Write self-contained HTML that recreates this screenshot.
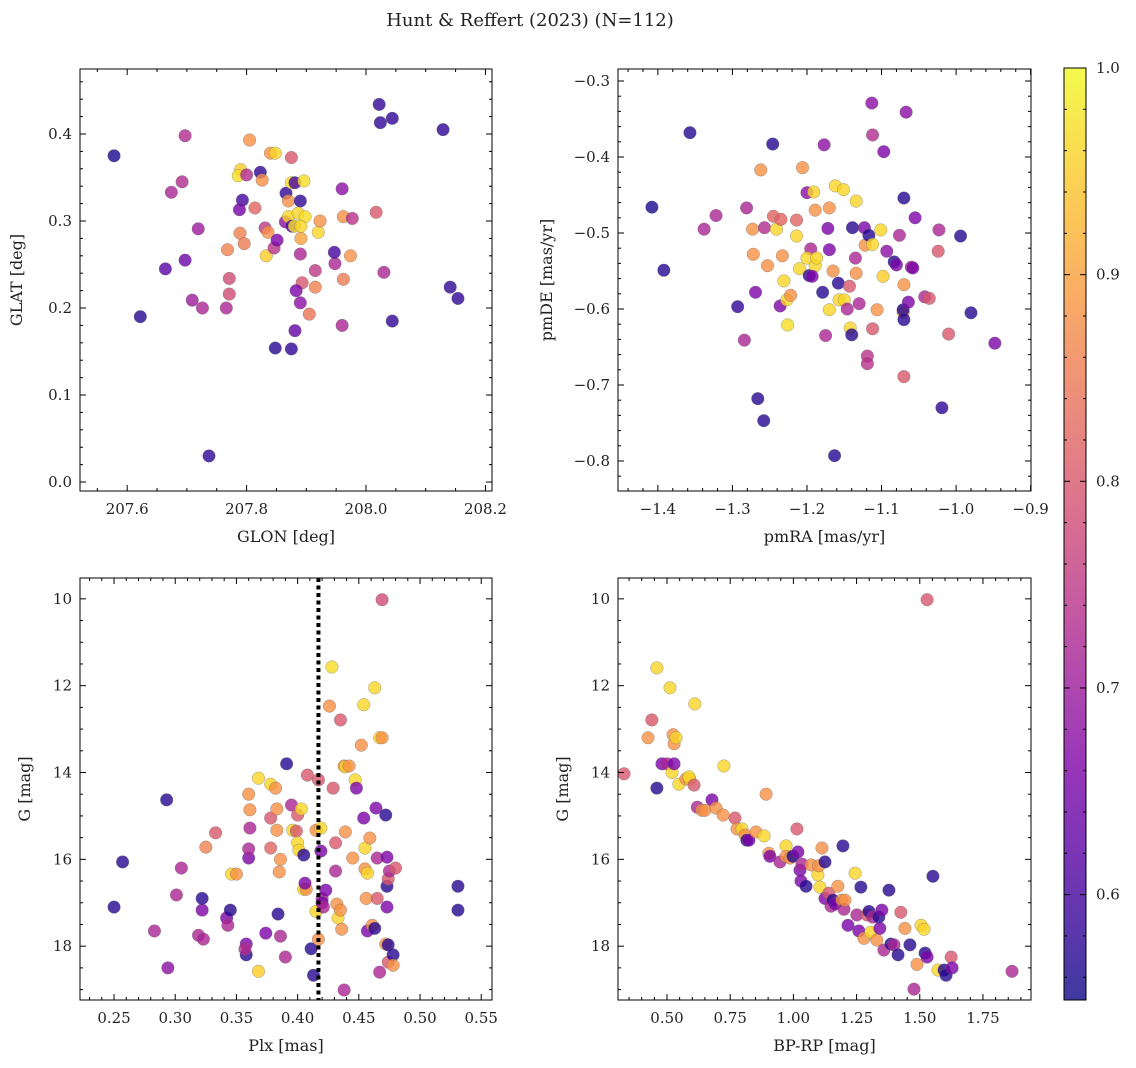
<!DOCTYPE html>
<html><head><meta charset="utf-8">
<style>
html,body{margin:0;padding:0;background:#fff;}
svg{display:block;font-family:"DejaVu Serif","Liberation Serif",serif;}
</style></head>
<body>
<svg id="fig" width="1136" height="1068" viewBox="0 0 1136 1068" xmlns="http://www.w3.org/2000/svg">
<text x="530" y="26" font-size="18" text-anchor="middle" fill="#222">Hunt &amp; Reffert (2023) (N=112)</text>
</svg>
<script>
// ---- Panel 1: GLON vs GLAT ----
const p1x=[207.578,207.622,207.664,207.697,207.674,207.692,207.697,207.709,207.719,207.726,207.737,207.766,207.771,207.771,207.768,207.789,207.796,207.805,207.79,207.786,207.793,207.788,207.80,207.814,207.823,207.826,207.831,207.836,207.833,207.846,207.84,207.848,207.848,207.851,207.865,207.866,207.87,207.87,207.876,207.88,207.875,207.875,207.881,207.89,207.896,207.886,207.898,207.891,207.891,207.89,207.893,207.89,207.883,207.881,207.875,207.905,207.915,207.915,207.92,207.923,207.948,207.947,207.96,207.962,207.962,207.96,207.977,207.974,208.017,208.024,208.022,208.03,208.044,208.044,208.129,208.141,208.154];
const p1y=[.375,.19,.245,.255,.333,.345,.398,.209,.291,.2,.03,.2,.234,.216,.267,.286,.274,.393,.359,.352,.324,.313,.353,.315,.356,.347,.292,.287,.26,.269,.378,.378,.154,.278,.299,.332,.323,.305,.294,.294,.373,.344,.344,.323,.346,.309,.305,.294,.28,.262,.229,.206,.22,.174,.153,.193,.243,.224,.287,.3,.251,.264,.337,.305,.233,.18,.303,.26,.31,.413,.434,.241,.418,.185,.405,.224,.211];
const p1c=[.56,.57,.62,.64,.72,.73,.73,.7,.7,.72,.58,.72,.78,.78,.86,.86,.85,.88,.95,.97,.6,.65,.73,.82,.58,.88,.75,.88,.95,.74,.88,.96,.57,.66,.68,.58,.88,.96,.6,.97,.8,.97,.6,.58,.97,.96,.97,.96,.9,.72,.8,.68,.66,.63,.58,.84,.75,.86,.96,.88,.72,.6,.68,.88,.85,.72,.74,.88,.8,.58,.58,.72,.58,.58,.58,.58,.58];
// ---- Panel 2: pmRA vs pmDE ----
const p2x=[-1.408,-1.392,-1.357,-1.338,-1.322,-1.293,-1.284,-1.281,-1.273,-1.272,-1.269,-1.266,-1.262,-1.258,-1.257,-1.253,-1.246,-1.245,-1.241,-1.236,-1.235,-1.233,-1.231,-1.227,-1.226,-1.222,-1.214,-1.214,-1.21,-1.206,-1.2,-1.197,-1.195,-1.191,-1.189,-1.2,-1.189,-1.187,-1.193,-1.179,-1.177,-1.175,-1.172,-1.17,-1.17,-1.17,-1.165,-1.163,-1.162,-1.158,-1.157,-1.151,-1.15,-1.146,-1.143,-1.142,-1.14,-1.139,-1.135,-1.134,-1.134,-1.13,-1.123,-1.122,-1.119,-1.119,-1.117,-1.113,-1.112,-1.112,-1.112,-1.106,-1.101,-1.098,-1.097,-1.093,-1.083,-1.08,-1.076,-1.071,-1.07,-1.07,-1.07,-1.067,-1.071,-1.07,-1.064,-1.06,-1.058,-1.055,-1.042,-1.036,-1.023,-1.024,-1.019,-1.01,-0.994,-0.98,-0.948];
const p2y=[-0.466,-0.549,-0.368,-0.495,-0.477,-0.597,-0.641,-0.467,-0.495,-0.528,-0.578,-0.718,-0.417,-0.747,-0.493,-0.543,-0.383,-0.478,-0.495,-0.596,-0.482,-0.53,-0.563,-0.588,-0.621,-0.582,-0.504,-0.483,-0.547,-0.414,-0.447,-0.556,-0.521,-0.446,-0.47,-0.533,-0.543,-0.533,-0.557,-0.578,-0.384,-0.635,-0.494,-0.467,-0.522,-0.601,-0.55,-0.793,-0.438,-0.566,-0.588,-0.443,-0.588,-0.6,-0.57,-0.625,-0.634,-0.493,-0.533,-0.458,-0.553,-0.593,-0.493,-0.516,-0.662,-0.672,-0.503,-0.329,-0.371,-0.515,-0.626,-0.601,-0.496,-0.557,-0.393,-0.524,-0.538,-0.542,-0.503,-0.604,-0.454,-0.568,-0.689,-0.341,-0.601,-0.614,-0.591,-0.545,-0.546,-0.48,-0.584,-0.586,-0.496,-0.524,-0.73,-0.633,-0.504,-0.605,-0.645];
const p2c=[.56,.57,.57,.72,.72,.58,.72,.72,.88,.88,.66,.57,.88,.57,.73,.88,.57,.82,.96,.66,.82,.88,.96,.96,.97,.88,.96,.82,.96,.88,.68,.57,.72,.96,.88,.96,.96,.96,.66,.57,.68,.72,.66,.88,.66,.96,.88,.57,.96,.57,.96,.96,.96,.72,.8,.96,.57,.57,.72,.96,.88,.72,.66,.88,.74,.74,.57,.68,.73,.96,.8,.88,.96,.95,.66,.68,.57,.66,.72,.88,.57,.88,.8,.68,.57,.57,.66,.72,.66,.66,.72,.8,.72,.8,.58,.8,.57,.57,.66];
// ---- Panel 3: Plx vs G ----
const p3x=[0.25,0.257,0.283,0.293,0.294,0.301,0.305,0.319,0.322,0.322,0.323,0.325,0.333,0.342,0.343,0.345,0.346,0.35,0.358,0.358,0.357,0.36,0.36,0.361,0.361,0.36,0.368,0.368,0.374,0.378,0.378,0.378,0.382,0.383,0.383,0.386,0.385,0.384,0.386,0.39,0.391,0.395,0.396,0.399,0.4,0.4,0.401,0.403,0.405,0.405,0.407,0.406,0.408,0.411,0.413,0.415,0.415,0.417,0.417,0.419,0.419,0.42,0.42,0.421,0.423,0.428,0.426,0.429,0.431,0.431,0.432,0.433,0.435,0.435,0.436,0.438,0.439,0.439,0.438,0.442,0.445,0.447,0.448,0.452,0.454,0.454,0.455,0.455,0.456,0.457,0.457,0.459,0.461,0.463,0.464,0.463,0.465,0.467,0.467,0.469,0.469,0.465,0.472,0.472,0.473,0.473,0.473,0.474,0.474,0.474,0.475,0.478,0.478,0.48,0.531,0.531];
const p3y=[17.1,16.06,17.65,14.63,18.5,16.82,16.2,17.75,17.17,16.9,17.84,15.72,15.39,17.35,17.52,17.17,16.34,16.34,18.2,17.95,18.07,15.97,15.76,15.28,14.86,14.5,14.13,18.58,17.7,14.27,15.05,15.74,14.36,15.33,14.84,16.0,16.29,17.26,17.77,18.25,13.8,14.75,15.33,15.35,14.98,15.62,15.79,14.84,15.9,16.69,16.69,16.55,14.06,18.06,18.67,15.33,17.2,17.84,14.17,15.28,15.81,16.9,17.0,17.1,16.71,11.57,12.47,14.36,15.62,16.27,17.03,17.35,12.79,17.17,17.61,13.85,13.87,15.37,19.01,13.85,15.97,14.17,14.36,13.37,12.44,15.05,15.74,16.22,16.9,17.65,16.32,15.51,17.52,12.05,14.82,17.59,15.97,18.6,13.2,13.2,10.02,16.9,14.98,17.95,15.95,16.62,17.1,18.37,17.97,16.45,16.27,18.2,18.44,16.2,16.62,17.17];
const p3c=[.57,.57,.72,.57,.68,.72,.72,.72,.66,.57,.72,.86,.8,.66,.72,.57,.96,.88,.57,.66,.73,.66,.72,.72,.88,.88,.96,.95,.66,.96,.8,.82,.88,.88,.88,.88,.88,.57,.72,.72,.57,.72,.96,.8,.8,.96,.96,.96,.57,.96,.88,.66,.8,.57,.57,.88,.96,.88,.8,.96,.66,.72,.66,.72,.66,.97,.88,.8,.8,.72,.88,.96,.8,.88,.88,.88,.96,.88,.72,.88,.88,.96,.66,.88,.96,.66,.96,.88,.88,.66,.96,.88,.88,.96,.66,.57,.72,.72,.96,.88,.78,.8,.57,.88,.66,.57,.66,.8,.57,.8,.72,.57,.88,.8,.57,.57];
// ---- Panel 4: BP-RP vs G ----
const p4x=[0.33,0.44,0.425,0.46,0.46,0.48,0.5,0.512,0.52,0.524,0.528,0.536,0.528,0.547,0.575,0.59,0.587,0.61,0.607,0.62,0.638,0.65,0.678,0.694,0.722,0.725,0.769,0.777,0.797,0.809,0.816,0.824,0.852,0.884,0.892,0.903,0.907,0.947,0.971,0.971,0.987,0.998,1.014,1.018,1.026,1.03,1.034,1.05,1.07,1.097,1.1,1.105,1.113,1.125,1.125,1.14,1.149,1.157,1.165,1.176,1.192,1.196,1.2,1.204,1.216,1.244,1.251,1.259,1.267,1.279,1.291,1.299,1.306,1.314,1.33,1.338,1.342,1.35,1.358,1.378,1.386,1.398,1.414,1.425,1.441,1.461,1.477,1.489,1.505,1.517,1.521,1.529,1.529,1.552,1.572,1.596,1.604,1.624,1.628,1.865];
const p4y=[14.03,12.79,13.2,11.59,14.36,13.8,13.8,12.05,14.0,13.13,13.34,13.2,13.8,14.27,14.15,14.15,14.1,12.42,14.29,14.8,14.87,14.87,14.63,14.82,14.98,13.85,15.05,15.3,15.3,15.44,15.56,15.56,15.37,15.46,14.5,15.86,15.93,16.06,15.69,15.93,15.97,15.93,15.3,15.83,16.25,16.5,16.11,16.62,16.13,16.36,16.15,16.64,15.74,16.9,16.06,16.78,17.08,16.94,17.03,16.62,16.94,15.69,17.15,16.94,17.52,16.32,17.28,17.65,16.64,17.82,17.28,17.2,17.68,17.33,17.86,17.33,17.59,17.17,18.09,16.71,17.95,17.97,18.2,17.22,17.59,17.97,18.99,18.42,17.52,17.61,18.16,10.02,18.25,16.39,18.55,18.55,18.67,18.25,18.5,18.58];
const p4c=[.8,.8,.88,.96,.57,.66,.72,.96,.96,.88,.88,.96,.66,.96,.88,.96,.96,.96,.8,.72,.88,.88,.66,.88,.88,.96,.8,.88,.96,.88,.57,.66,.88,.96,.88,.88,.66,.72,.96,.88,.88,.57,.8,.66,.66,.66,.72,.57,.88,.96,.88,.96,.88,.66,.57,.8,.72,.57,.66,.88,.88,.57,.72,.88,.66,.96,.72,.66,.57,.88,.8,.57,.96,.72,.88,.57,.66,.66,.72,.57,.57,.72,.57,.8,.88,.57,.72,.88,.96,.96,.57,.8,.66,.57,.96,.57,.57,.8,.66,.72];
const plxCut=[0.417];
const cbTicks=[0.6,0.7,0.8,0.9,1.0];
const VMIN=0.549, VMAX=1.0;

const NS="http://www.w3.org/2000/svg";
const svg=document.getElementById('fig');
function mk(tag,attrs,parent){const e=document.createElementNS(NS,tag);for(const k in attrs)e.setAttribute(k,attrs[k]);(parent||svg).appendChild(e);return e;}
const stops=[[13,8,135],[76,2,161],[126,3,168],[169,35,149],[204,71,120],[229,107,93],[248,149,64],[253,197,39],[240,249,33]];
function plasma(v){let t=(v-VMIN)/(VMAX-VMIN);t=Math.max(0,Math.min(1,t));const f=t*8,i=Math.min(7,Math.floor(f)),r=f-i;const a=stops[i],b=stops[i+1];return `rgb(${Math.round(a[0]+(b[0]-a[0])*r)},${Math.round(a[1]+(b[1]-a[1])*r)},${Math.round(a[2]+(b[2]-a[2])*r)})`;}
function fmt(v,d){return (v<0?'\u2212':'')+Math.abs(v).toFixed(d);}

function panel(o){
  const g=mk('g',{});
  
  
  const sx=v=>o.L+(v-o.xd[0])/(o.xd[1]-o.xd[0])*(o.R-o.L);
  const sy=v=>o.B-(v-o.yd[0])/(o.yd[1]-o.yd[0])*(o.B-o.T);
  const clip='c'+o.name;
  const cp=mk('clipPath',{id:clip},g);mk('rect',{x:o.L,y:o.T,width:o.R-o.L,height:o.B-o.T},cp);
  const pg=mk('g',{'clip-path':`url(#${clip})`},g);
  for(let i=0;i<o.x.length;i++){
    const c=mk('circle',{cx:sx(o.x[i]),cy:sy(o.y[i]),r:6.3,fill:plasma(o.c[i]),'fill-opacity':0.8,stroke:'#666','stroke-width':0.5,'stroke-opacity':0.6},pg);
    
    
  }
  if(o.vline){const l=mk('line',{x1:sx(o.vline),x2:sx(o.vline),y1:o.T,y2:o.B,stroke:'#000','stroke-width':4,'stroke-dasharray':'4 3.5'},pg);
    
    }
  const fr=mk('rect',{x:o.L,y:o.T,width:o.R-o.L,height:o.B-o.T,fill:'none',stroke:'#000','stroke-width':1},g);
  
  
  const lo=Math.min(...o.xd),hi=Math.max(...o.xd);
  for(let k=Math.ceil(lo/o.xmin-1e-6);k*o.xmin<=hi+1e-9;k++){const v=k*o.xmin;const X=sx(v);
    const maj=Math.abs(v/o.xmaj-Math.round(v/o.xmaj))<1e-6;const len=maj?6:3;
    mk('line',{x1:X,x2:X,y1:o.B,y2:o.B-len,stroke:'#000','stroke-width':1},g);
    mk('line',{x1:X,x2:X,y1:o.T,y2:o.T+len,stroke:'#000','stroke-width':1},g);
    if(maj){const t=mk('text',{x:X,y:o.B+23,'font-size':15,'text-anchor':'middle',fill:'#222'},g);t.textContent=fmt(v,o.xdec);
      
      }}
  const ylo=Math.min(...o.yd),yhi=Math.max(...o.yd);
  for(let k=Math.ceil(ylo/o.ymin-1e-6);k*o.ymin<=yhi+1e-9;k++){const v=k*o.ymin;const Y=sy(v);
    const maj=Math.abs(v/o.ymaj-Math.round(v/o.ymaj))<1e-6;const len=maj?6:3;
    mk('line',{x1:o.L,x2:o.L+len,y1:Y,y2:Y,stroke:'#000','stroke-width':1},g);
    mk('line',{x1:o.R,x2:o.R-len,y1:Y,y2:Y,stroke:'#000','stroke-width':1},g);
    if(maj){const t=mk('text',{x:o.L-8,y:Y+5,'font-size':15,'text-anchor':'end',fill:'#222'},g);t.textContent=fmt(v,o.ydec);
      
      }}
  const xl=mk('text',{x:(o.L+o.R)/2,y:o.B+51,'font-size':16,'text-anchor':'middle',fill:'#222'},g);xl.textContent=o.xlab;
  
  
  const yx=o.L-o.ylOff,yy=(o.T+o.B)/2;
  const yl=mk('text',{x:yx,y:yy,'font-size':16,'text-anchor':'middle',fill:'#222',transform:`rotate(-90 ${yx} ${yy})`},g);yl.textContent=o.ylab;
  
  
}
panel({name:'glon-glat-panel',L:80,R:492,T:69,B:491,xd:[207.521,208.211],yd:[-0.0103,0.4747],xmaj:0.2,xmin:0.05,ymaj:0.1,ymin:0.02,xdec:1,ydec:1,x:p1x,y:p1y,c:p1c,xlab:'GLON [deg]',ylab:'GLAT [deg]',ylOff:58});
panel({name:'proper-motion-panel',L:618,R:1031,T:69,B:491,xd:[-1.4535,-0.8995],yd:[-0.8395,-0.2842],xmaj:0.1,xmin:0.02,ymaj:0.1,ymin:0.02,xdec:1,ydec:1,x:p2x,y:p2y,c:p2c,xlab:'pmRA [mas/yr]',ylab:'pmDE [mas/yr]',ylOff:66});
panel({name:'parallax-cmd-panel',L:80,R:492,T:578,B:1000,xd:[0.2222,0.5588],yd:[19.24,9.52],xmaj:0.05,xmin:0.01,ymaj:2,ymin:0.5,xdec:2,ydec:0,x:p3x,y:p3y,c:p3c,xlab:'Plx [mas]',ylab:'G [mag]',ylOff:50,vline:plxCut[0]});
panel({name:'color-magnitude-panel',L:618,R:1031,T:578,B:1000,xd:[0.3062,1.94],yd:[19.24,9.52],xmaj:0.25,xmin:0.05,ymaj:2,ymin:0.5,xdec:2,ydec:0,x:p4x,y:p4y,c:p4c,xlab:'BP-RP [mag]',ylab:'G [mag]',ylOff:50});

// colorbar
(function(){
  const L=1064,R=1086,T=68,B=1000;
  const g=mk('g',{});
  
  
  const defs=mk('defs',{},g);
  const lg=mk('linearGradient',{id:'cbg',x1:0,y1:1,x2:0,y2:0},defs);
  for(let i=0;i<=20;i++){const v=VMIN+(VMAX-VMIN)*i/20;mk('stop',{offset:i/20,'stop-color':plasma(v),'stop-opacity':0.8},lg);}
  mk('rect',{x:L,y:T,width:R-L,height:B-T,fill:'url(#cbg)',stroke:'#000','stroke-width':1},g);
  const sy=v=>B-(v-VMIN)/(VMAX-VMIN)*(B-T);
  for(let k=28;k<=50;k++){const v=k*0.02;if(v<VMIN||v>VMAX+1e-9)continue;const Y=sy(v);
    const maj=k%5===0;mk('line',{x1:R,x2:R-(maj?6:3),y1:Y,y2:Y,stroke:'#000','stroke-width':1},g);
    mk('line',{x1:L,x2:L+(maj?6:3),y1:Y,y2:Y,stroke:'#000','stroke-width':1},g);}
  cbTicks.forEach(v=>{const t=mk('text',{x:R+10,y:sy(v)+5,'font-size':15,fill:'#222'},g);t.textContent=v.toFixed(1);
    
    });
})();
</script>
</body></html>
